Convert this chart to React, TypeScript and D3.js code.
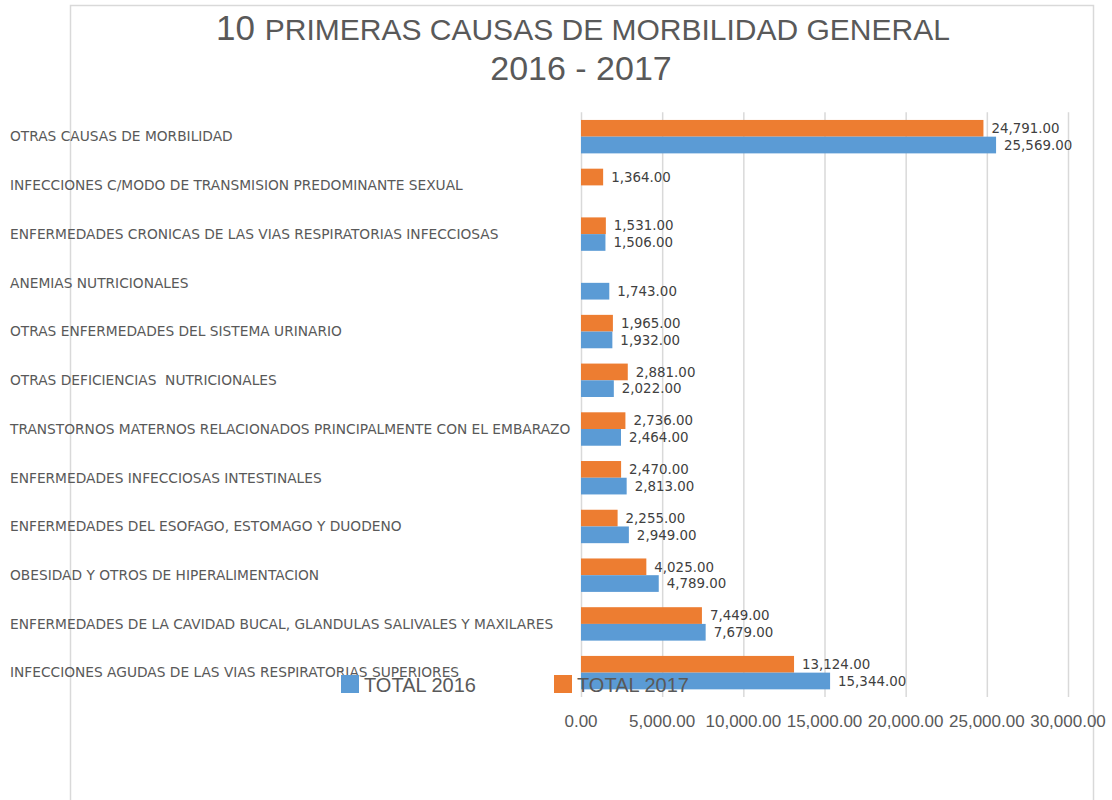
import { useEffect, useRef } from 'react'
import * as d3 from 'd3'

// categories, top to bottom as in the chart
const categories = [
  'OTRAS CAUSAS DE MORBILIDAD',
  'INFECCIONES C/MODO DE TRANSMISION PREDOMINANTE SEXUAL',
  'ENFERMEDADES CRONICAS DE LAS VIAS RESPIRATORIAS INFECCIOSAS',
  'ANEMIAS NUTRICIONALES',
  'OTRAS ENFERMEDADES DEL SISTEMA URINARIO',
  'OTRAS DEFICIENCIAS  NUTRICIONALES',
  'TRANSTORNOS MATERNOS RELACIONADOS PRINCIPALMENTE CON EL EMBARAZO',
  'ENFERMEDADES INFECCIOSAS INTESTINALES',
  'ENFERMEDADES DEL ESOFAGO, ESTOMAGO Y DUODENO',
  'OBESIDAD Y OTROS DE HIPERALIMENTACION',
  'ENFERMEDADES DE LA CAVIDAD BUCAL, GLANDULAS SALIVALES Y MAXILARES',
  'INFECCIONES AGUDAS DE LAS VIAS RESPIRATORIAS SUPERIORES',
]

const total2017 = [24791, 1364, 1531, 0, 1965, 2881, 2736, 2470, 2255, 4025, 7449, 13124]
const total2016 = [25569, 0, 1506, 1743, 1932, 2022, 2464, 2813, 2949, 4789, 7679, 15344]

const xTicks = [0, 5000, 10000, 15000, 20000, 25000, 30000]

const seriesNames = ['TOTAL 2017', 'TOTAL 2016']
const seriesColors = ['#ED7D31', '#5B9BD5']

export default function App() {
  const svgRef = useRef<SVGSVGElement>(null)

  useEffect(() => {
    if (!svgRef.current) return
    const svg = d3.select(svgRef.current)
    svg.selectAll('*').remove()

    const width = 1112
    const height = 800
    const grey = '#595959'
    const labelFont = '"DejaVu Sans", Verdana, sans-serif'
    const arial = '"Liberation Sans", Arial, sans-serif'
    const fmt = d3.format(',.2f')

    // chart border
    svg.append('path')
      .attr('d', `M70.5,${height + 5} V5.5 H1093.5 V${height + 5}`)
      .attr('fill', 'none')
      .attr('stroke', '#D9D9D9')
      .attr('stroke-width', 1.5)

    // title
    const title = svg.append('text')
      .attr('x', 583)
      .attr('y', 40)
      .attr('text-anchor', 'middle')
      .attr('fill', grey)
      .attr('font-family', arial)
    title.append('tspan').attr('font-size', 35).text('10 ')
    title.append('tspan').attr('font-size', 30).text('PRIMERAS CAUSAS DE MORBILIDAD GENERAL')
    svg.append('text')
      .attr('x', 581)
      .attr('y', 80)
      .attr('text-anchor', 'middle')
      .attr('fill', grey)
      .attr('font-family', arial)
      .attr('font-size', 34)
      .text('2016 - 2017')

    const x = d3.scaleLinear().domain([0, 30000]).range([581, 1068])
    const y = d3.scaleBand<number>()
      .domain(d3.range(categories.length))
      .range([112.3, 697])
      .paddingInner(0.314)
      .paddingOuter(0.157)
    const ySub = d3.scaleBand<number>()
      .domain([0, 1])
      .range([0, y.bandwidth()])

    // gridlines
    svg.append('g')
      .selectAll('line')
      .data(xTicks)
      .join('line')
      .attr('x1', d => x(d) + 0.5)
      .attr('x2', d => x(d) + 0.5)
      .attr('y1', 112.3)
      .attr('y2', 697)
      .attr('stroke', '#D9D9D9')
      .attr('stroke-width', 1.5)

    // tick labels
    svg.append('g')
      .selectAll('text')
      .data(xTicks)
      .join('text')
      .attr('x', d => x(d))
      .attr('y', 727)
      .attr('text-anchor', 'middle')
      .attr('fill', grey)
      .attr('font-family', arial)
      .attr('font-size', 17)
      .text(d => fmt(d))

    // category labels
    svg.append('g')
      .selectAll('text')
      .data(categories)
      .join('text')
      .attr('x', 10)
      .attr('y', (d, i) => (y(i) ?? 0) + y.bandwidth() / 2)
      .attr('dy', '0.35em')
      .attr('fill', grey)
      .attr('font-family', labelFont)
      .attr('font-size', 13.75)
      .style('white-space', 'pre')
      .text(d => d)

    // bars
    const series = [total2017, total2016]
    series.forEach((values, s) => {
      const g = svg.append('g')
      g.selectAll('rect')
        .data(values)
        .join('rect')
        .attr('x', x(0))
        .attr('y', (d, i) => (y(i) ?? 0) + (ySub(s) ?? 0))
        .attr('width', d => x(d) - x(0))
        .attr('height', ySub.bandwidth())
        .attr('fill', seriesColors[s])

      g.selectAll('text')
        .data(values.map((v, i) => ({ v, i })).filter(d => d.v > 0))
        .join('text')
        .attr('x', d => x(d.v) + 8)
        .attr('y', d => (y(d.i) ?? 0) + (ySub(s) ?? 0) + ySub.bandwidth() / 2)
        .attr('dy', '0.35em')
        .attr('fill', '#404040')
        .attr('font-family', labelFont)
        .attr('font-size', 13.4)
        .text(d => fmt(d.v))
    })

    // legend (sits over the plot, as in the original)
    const legendItems = [
      { name: seriesNames[1], color: seriesColors[1], x: 341 },
      { name: seriesNames[0], color: seriesColors[0], x: 554 },
    ]
    const lg = svg.append('g')
    legendItems.forEach(item => {
      lg.append('rect')
        .attr('x', item.x)
        .attr('y', 675)
        .attr('width', 18)
        .attr('height', 18)
        .attr('fill', item.color)
      lg.append('text')
        .attr('x', item.x + 23)
        .attr('y', 692)
        .attr('fill', grey)
        .attr('font-family', arial)
        .attr('font-size', 20)
        .text(item.name)
    })

    svg.attr('width', width).attr('height', height)
  }, [])

  return (
    <svg
      ref={svgRef}
      width={1112}
      height={800}
      style={{ position: 'absolute', left: 0, top: 0, background: '#fff' }}
    />
  )
}
